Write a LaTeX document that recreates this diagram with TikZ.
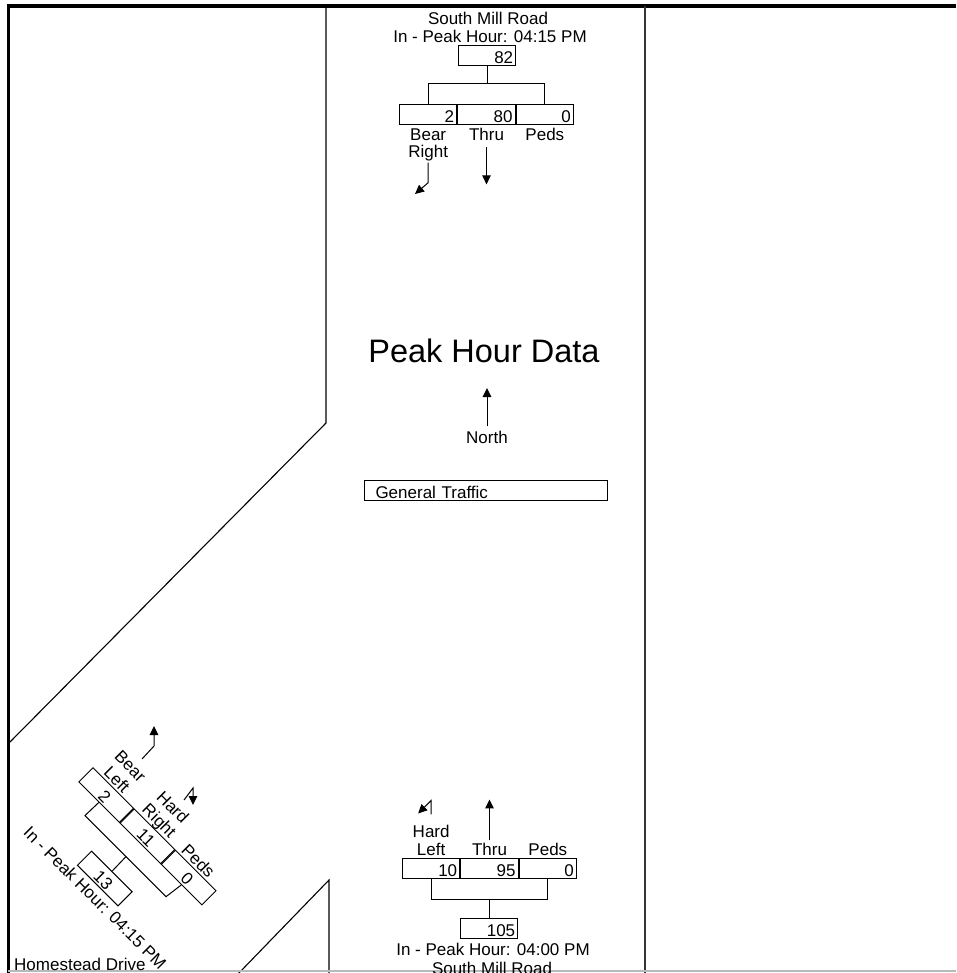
\documentclass[tikz,border=0pt]{standalone}
\usepackage{fontspec}
\setmainfont{Liberation Sans}
\usetikzlibrary{arrows.meta,calc}
\tikzset{
  txt/.style={inner sep=0pt, anchor=base, font=\fontsize{17}{18}\selectfont},
  cell/.style={draw, line width=1pt, minimum width=57.33pt, minimum height=20pt,
    inner sep=0pt, text width=52pt, align=right, text height=16pt, text depth=0pt,
    font=\fontsize{17}{18}\selectfont, anchor=north west},
  rcell/.style={cell, text width=50pt, align=center},
  thin line/.style={line width=1pt},
  arr/.style={line width=1pt, -{Triangle[length=9pt,width=8.5pt]}},
  road/.style={line width=1.1pt}
}
\begin{document}
\begin{tikzpicture}[x=1pt,y=-1pt]
\useasboundingbox (0,0) rectangle (956,973);
\clip (0,0) rectangle (956,973);
\fill[white] (0,0) rectangle (956,973);

% frame and roads
\draw[line width=3.5pt] (956,6) -- (8.5,6) -- (8.5,975);
\draw[road] (326,6) -- (326,423) -- (10,742);
\draw[line width=1.5pt, black!80] (645,6) -- (645,975);
\draw[road] (237,975) -- (329,880) -- (329,975);
\draw[gray!55, line width=1.2pt] (8,971) -- (956,971);

% ---------- top approach (South Mill Road, southbound) ----------
\node[txt] (road1) at (488,25) {South Mill Road};
\node[txt] (in1) at (490,43) {In - Peak Hour: 04:15 PM};
\node[cell] (tot1) at (458,45) {82};
\node[cell] (a1) at (399,104) {2};
\node[cell] (a2) at (a1.north east) {80};
\node[cell] (a3) at (a2.north east) {0};
\coordinate (ka) at ($(a1.north)+(0,-20)$);
\draw[thin line] (a1.north) -- (ka) -| (a3.north);
\draw[thin line] (tot1.south) -- (tot1.south |- ka);
\node[txt] (l1) at ($(a1.south)+(0,16)$) {Bear};
\node[txt] (l1b) at ($(a1.south)+(0,33)$) {Right};
\node[txt] (l2) at ($(a2.south)+(0,16)$) {Thru};
\node[txt] (l3) at ($(a3.south)+(0,16)$) {Peds};
\coordinate (brtip) at (415,194);
\draw[arr] ($(l1b.south)+(0,1)$) -- ++(0,20) -- (brtip);
\draw[arr] ($(l2.south)+(0,6)$) -- ++(0,37);

% ---------- centre ----------
\node[inner sep=0pt, anchor=base, font=\fontsize{32.5}{34}\selectfont] (title) at (484,362) {Peak Hour Data};
\node[txt] (north) at (487,443) {North};
\coordinate (ntip) at (487,388);
\draw[arr] ($(north.north)+(0,-4)$) -- (ntip);
\node[draw, line width=1pt, minimum width=243pt, minimum height=20pt, inner sep=0pt,
  text width=221pt, align=left, text height=16pt, text depth=0pt,
  font=\fontsize{17}{18}\selectfont, anchor=north west] (gt) at (364,480) {General Traffic};

% ---------- bottom approach (South Mill Road, northbound) ----------
\node[cell] (b1) at (402,858) {10};
\node[cell] (b2) at (b1.north east) {95};
\node[cell] (b3) at (b2.north east) {0};
\node[cell] (tot2) at (460,918) {105};
\coordinate (kb) at ($(b1.south)+(0,20)$);
\draw[thin line] (b1.south) -- (kb) -| (b3.south);
\draw[thin line] (tot2.north) -- (tot2.north |- kb);
\node[txt] (m1) at ($(b1.north)+(0,-3)$) {Left};
\node[txt] (m1a) at ($(b1.north)+(0,-21)$) {Hard};
\node[txt] (m2) at ($(b2.north)+(0,-3)$) {Thru};
\node[txt] (m3) at ($(b3.north)+(0,-3)$) {Peds};
\draw[arr] ($(m2.north)+(0,-2)$) -- ++(0,-41);
\draw[arr] ($(m1a.north)+(0,-10)$) -- ++(0,-14) -- ++(-13,13);
\node[txt] (in2) at (493,955) {In - Peak Hour: 04:00 PM};
\node[txt] (road2) at (492,974) {South Mill Road};

% ---------- Homestead Drive approach (rotated) ----------
\begin{scope}[shift={(93,767)}, rotate=-45, transform shape]
  \node[rcell] (c1) at (0,0) {2};
  \node[rcell] (c2) at (c1.north east) {11};
  \node[rcell] (c3) at (c2.north east) {0};
  \node[rcell] (c4) at (58,60) {13};
  \coordinate (k1) at (28.67,40);
  \coordinate (k3) at (143.33,40);
  \coordinate (km) at (86.67,40);
  \draw[thin line] (c1.south) -- (k1) -- (k3) -- (c3.south);
  \draw[thin line] (c4.north) -- (km);
  \node[txt] (h1) at (26,-2) {Left};
  \node[txt] (h1a) at (26,-21) {Bear};
  \node[txt] (h2) at (85,-3) {Right};
  \node[txt] (h2a) at (85,-22) {Hard};
  \node[txt] (h3) at (141,-2) {Peds};
  \node[txt] (in3) at (94,97) {In - Peak Hour: 04:15 PM};
\end{scope}
\coordinate (bl0) at (142,759);
\coordinate (bl1) at (154,746);
\coordinate (bltip) at (154,726);
\draw[arr] (bl0) -- (bl1) -- (bltip);
\coordinate (hr0) at (184,800);
\coordinate (hr1) at (193,788);
\coordinate (hrtip) at (193,805);
\draw[arr] (hr0) -- (hr1) -- (hrtip);
\node[txt, anchor=base west] (hd) at (14,970) {Homestead Drive};
\end{tikzpicture}
\end{document}
